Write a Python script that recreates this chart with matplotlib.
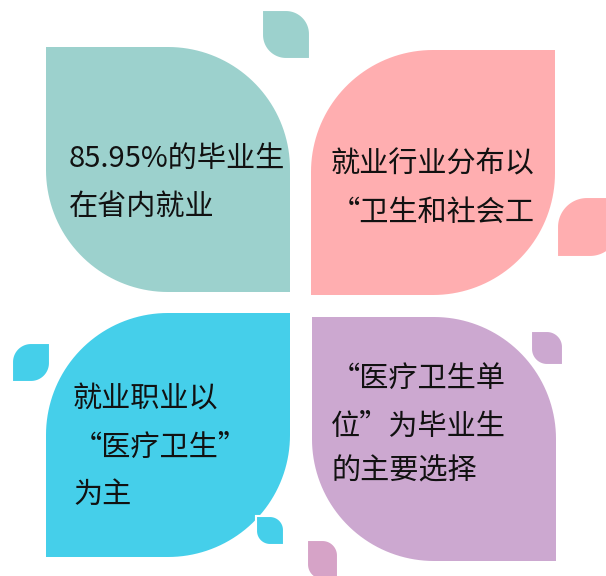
import numpy as np
import matplotlib
matplotlib.use("Agg")
import matplotlib.pyplot as plt
from matplotlib.patches import Polygon

plt.rcParams['font.family'] = ['Noto Sans CJK SC', 'DejaVu Sans']

# ---- content ----
panel_texts = [
    ["85.95%的毕业生", "在省内就业"],
    ["就业行业分布以", "“卫生和社会工"],
    ["就业职业以", "“医疗卫生”", "为主"],
    ["“医疗卫生单", "位”为毕业生", "的主要选择"],
]
panel_colors = ["#9CD1CD", "#FFAEB0", "#45CFEA", "#CCA8D0"]

# ---- layout (pixels, y down) ----
big_boxes = [(46, 47, 290, 292), (311, 50, 555, 295), (46, 313, 290, 557), (312, 317, 556, 561)]
big_round = [("tr", "bl"), ("tl", "br"), ("tl", "br"), ("tr", "bl")]
text_x = [69, 331, 73, 331]
text_y = [[158.5, 207], [164.5, 212.5], [399.5, 447.5, 494.5], [378.5, 427, 472]]

small_boxes = [(262, 10, 310, 59), (557, 197, 620, 257), (12, 343, 50, 382),
               (256, 516, 284, 545), (531, 331, 563, 365), (307, 540, 338, 580)]
small_round = [("tr", "bl"), ("tl", "br"), ("tl", "br"), ("tr", "bl"), ("tr", "bl"), ("tr", "bl")]
small_colors = ["#9CD1CD", "#FFAEB0", "#45CFEA", "#45CFEA", "#CCA8D0", "#D6A3C7"]


def leaf(box, rounded, frac=0.5):
    x0, y0, x1, y1 = box
    r = frac * min(x1 - x0, y1 - y0)
    spec = {
        "tl": ((x0, y0), (x0 + r, y0 + r), 180, 270),
        "tr": ((x1, y0), (x1 - r, y0 + r), 270, 360),
        "br": ((x1, y1), (x1 - r, y1 - r), 0, 90),
        "bl": ((x0, y1), (x0 + r, y1 - r), 90, 180),
    }
    pts = []
    for c in ["tl", "tr", "br", "bl"]:
        corner, (cx, cy), a0, a1 = spec[c]
        if c in rounded:
            th = np.radians(np.linspace(a0, a1, 40))
            pts.extend(zip(cx + r * np.cos(th), cy + r * np.sin(th)))
        else:
            pts.append(corner)
    return np.array(pts)


fig = plt.figure(figsize=(6.06, 5.76), dpi=100)
ax = fig.add_axes([0, 0, 1, 1])
ax.set_xlim(0, 606)
ax.set_ylim(576, 0)
ax.axis("off")

for box, rnd, col in zip(big_boxes, big_round, panel_colors):
    ax.add_patch(Polygon(leaf(box, rnd), closed=True, facecolor=col, edgecolor="none", zorder=1))

for box, rnd, col in zip(small_boxes, small_round, small_colors):
    ax.add_patch(Polygon(leaf(box, rnd), closed=True, facecolor=col, edgecolor="white",
                         linewidth=1.5, zorder=2))

for lines, x, ys in zip(panel_texts, text_x, text_y):
    for t, y in zip(lines, ys):
        ax.text(x, y, t, fontsize=21, color="#111111", ha="left", va="center", zorder=3)

fig.savefig("out.png", dpi=100)
